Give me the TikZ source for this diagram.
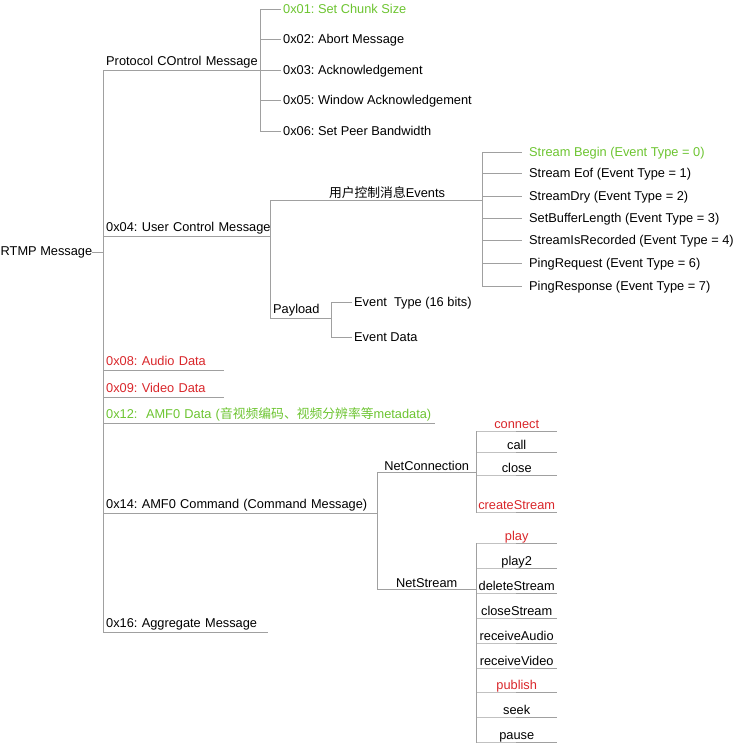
\documentclass[tikz,border=0pt]{standalone}
\usepackage{fontspec}
\setmainfont{Liberation Sans}
\newfontfamily\cjk{Noto Sans CJK SC}
\definecolor{linegray}{RGB}{160,160,160}
\definecolor{mapgreen}{RGB}{108,196,48}
\definecolor{mapred}{RGB}{217,38,42}
\begin{document}
\frenchspacing
\begin{tikzpicture}[x=1pt,y=-1pt,
  font=\fontsize{12.8pt}{15pt}\selectfont,
  link/.style={draw=linegray,line width=0.9pt},
  branch/.style={anchor=south west,inner xsep=3pt,inner ysep=4.5pt,text depth=0pt,align=left,text width=#1,
    execute at begin node=\hbox\bgroup,execute at end node=\egroup},
  leaf/.style={anchor=west,inner xsep=2pt,text height=9pt,text depth=0pt},
  cell/.style={anchor=south west,inner xsep=0pt,inner ysep=2.5pt,text depth=0pt,minimum width=#1}]
\useasboundingbox (0,0) rectangle (733,744);

\node[anchor=west,inner sep=0pt] (root) at (0.5,252) {RTMP Message};

\node[branch=151pt] (pcm) at (103,70) {Protocol COntrol Message};
\node[branch=161pt] (ucm) at (103,236) {0x04: User Control Message};
\node[branch=115pt,text=mapred] (aud) at (103,370) {0x08: Audio Data};
\node[branch=115pt,text=mapred] (vid) at (103,397) {0x09: Video Data};
\node[branch=326pt,text=mapgreen] (amfd) at (103,423) {0x12:\ \ AMF0 Data ({\cjk 音视频编码、视频分辨率等}metadata)};
\node[branch=268pt] (amfc) at (103,513) {0x14: AMF0 Command (Command Message)};
\node[branch=159pt] (agg) at (103,632) {0x16: Aggregate Message};
\foreach \nd in {pcm,ucm,aud,vid,amfd,amfc,agg}
  \draw[link] (root.east) -| (\nd.south west) -- (\nd.south east);

\node[leaf,text=mapgreen] (chunk) at (281,9) {0x01: Set Chunk Size};
\node[leaf] (abort) at (281,39) {0x02: Abort Message};
\node[leaf] (ack) at (281,70) {0x03: Acknowledgement};
\node[leaf] (winack) at (281,100) {0x05: Window Acknowledgement};
\node[leaf] (peerbw) at (281,131) {0x06: Set Peer Bandwidth};
\foreach \nd in {chunk,abort,ack,winack,peerbw}
  \draw[link] (pcm.south east) |- (\nd.west);

\coordinate (evj) at (482,200);
\node (events) at (387,193) {{\cjk 用户控制消息}Events};
\draw[link] (ucm.south east) |- (evj);
\node[leaf,inner xsep=7pt,text=mapgreen] (ev0) at (522,152) {Stream Begin (Event Type = 0)};
\node[leaf,inner xsep=7pt] (ev1) at (522,173) {Stream Eof (Event Type = 1)};
\node[leaf,inner xsep=7pt] (ev2) at (522,196) {StreamDry (Event Type = 2)};
\node[leaf,inner xsep=7pt] (ev3) at (522,218) {SetBufferLength (Event Type = 3)};
\node[leaf,inner xsep=7pt] (ev4) at (522,240) {StreamIsRecorded (Event Type = 4)};
\node[leaf,inner xsep=7pt] (ev6) at (522,263) {PingRequest (Event Type = 6)};
\node[leaf,inner xsep=7pt] (ev7) at (522,286) {PingResponse (Event Type = 7)};
\foreach \nd in {ev0,ev1,ev2,ev3,ev4,ev6,ev7}
  \draw[link] (evj) |- (\nd.west);

\node[branch=55pt] (pay) at (270,318) {Payload};
\draw[link] (ucm.south east) |- (pay.south east);
\node[leaf] (evtype) at (352,302) {Event\ \ Type (16 bits)};
\node[leaf] (evdata) at (352,337) {Event Data};
\foreach \nd in {evtype,evdata}
  \draw[link] (pay.south east) |- (\nd.west);

\node[cell=99pt,inner ysep=1.5pt] (netconn) at (377,472) {NetConnection};
\node[cell=99pt,inner ysep=1.5pt] (netstream) at (377,589) {NetStream};
\foreach \nd in {netconn,netstream}
  \draw[link] (amfc.south east) |- (\nd.south east);

\node[cell=81pt,text=mapred] (connect) at (476,431) {connect};
\node[cell=81pt] (call) at (476,452) {call};
\node[cell=81pt] (close) at (476,475) {close};
\node[cell=81pt,text=mapred] (create) at (476,512) {createStream};
\foreach \nd in {connect,call,close,create}
  \draw[link] (netconn.south east) |- (\nd.south west) -- (\nd.south east);

\node[cell=81pt,text=mapred] (play) at (476,543) {play};
\node[cell=81pt] (playtwo) at (476,568) {play2};
\node[cell=81pt] (delstream) at (476,593) {deleteStream};
\node[cell=81pt] (clstream) at (476,618) {closeStream};
\node[cell=81pt] (recaudio) at (476,643) {receiveAudio};
\node[cell=81pt] (recvideo) at (476,668) {receiveVideo};
\node[cell=81pt,text=mapred] (publish) at (476,692) {publish};
\node[cell=81pt] (seek) at (476,717) {seek};
\node[cell=81pt] (pause) at (476,742) {pause};
\foreach \nd in {play,playtwo,delstream,clstream,recaudio,recvideo,publish,seek,pause}
  \draw[link] (netstream.south east) |- (\nd.south west) -- (\nd.south east);
\end{tikzpicture}
\end{document}
